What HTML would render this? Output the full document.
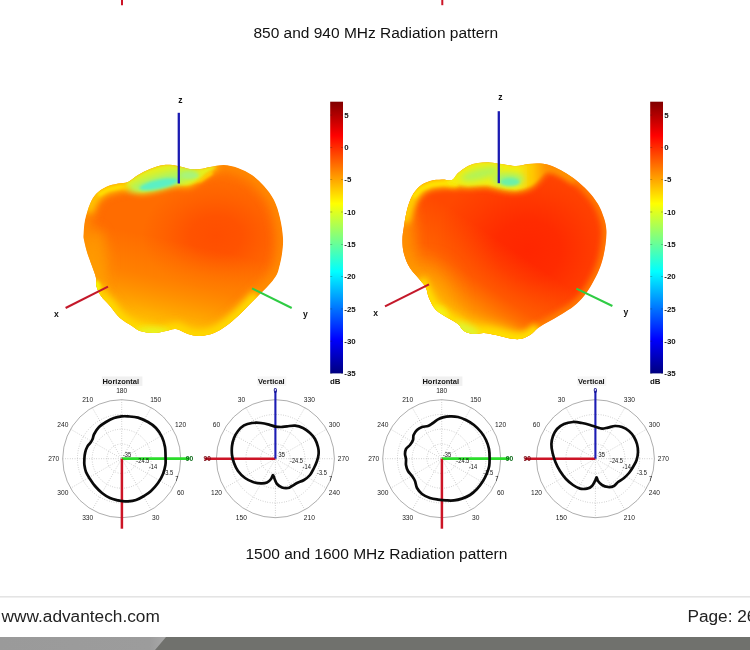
<!DOCTYPE html>
<html><head><meta charset="utf-8">
<style>
html,body{margin:0;padding:0;background:#fff;}
body{width:750px;height:650px;overflow:hidden;position:relative;font-family:"Liberation Sans",sans-serif;}
#wrap{position:absolute;left:0;top:0;width:750px;height:650px;will-change:transform;}
.cap{position:absolute;font-size:15.5px;color:#111;white-space:nowrap;line-height:18px;}
.ft{position:absolute;font-size:17.25px;color:#222;white-space:nowrap;line-height:19px;}
</style></head><body><div id="wrap">
<svg width="750" height="650" viewBox="0 0 750 650" style="position:absolute;left:0;top:0" font-family="Liberation Sans, sans-serif">
<defs>
<linearGradient id="jet" x1="0" y1="0" x2="0" y2="1">
<stop offset="0" stop-color="#800000"/>
<stop offset="0.125" stop-color="#ff0000"/>
<stop offset="0.375" stop-color="#ffff00"/>
<stop offset="0.5" stop-color="#80ff80"/>
<stop offset="0.625" stop-color="#00ffff"/>
<stop offset="0.875" stop-color="#0000ff"/>
<stop offset="1" stop-color="#000080"/>
</linearGradient>
<linearGradient id="wgR" gradientUnits="userSpaceOnUse" x1="518" y1="0" x2="552" y2="0"><stop offset="0" stop-color="#f4ee10"/><stop offset="0.45" stop-color="#ffc400"/><stop offset="1" stop-color="#ff7800"/></linearGradient>
<filter id="b2" filterUnits="userSpaceOnUse" x="0" y="0" width="750" height="650"><feGaussianBlur stdDeviation="1.6"/></filter>
<filter id="b3" filterUnits="userSpaceOnUse" x="0" y="0" width="750" height="650"><feGaussianBlur stdDeviation="3"/></filter>
<filter id="b6" filterUnits="userSpaceOnUse" x="0" y="0" width="750" height="650"><feGaussianBlur stdDeviation="6"/></filter>
<filter id="b14" filterUnits="userSpaceOnUse" x="0" y="0" width="750" height="650"><feGaussianBlur stdDeviation="14"/></filter>
</defs>
<line x1="122" y1="0" x2="122" y2="5.2" stroke="#cc1426" stroke-width="2"/>
<line x1="442.3" y1="0" x2="442.3" y2="5.2" stroke="#cc1426" stroke-width="2"/>
<clipPath id="clipL"><path d="M83.6,234.0C83.8,230.7 83.9,225.0 85.0,220.0C86.1,215.0 88.2,208.3 90.0,204.0C91.8,199.7 93.3,196.8 96.0,194.0C98.7,191.2 102.3,188.7 106.0,187.0C109.7,185.3 114.3,184.4 118.0,183.6C121.7,182.8 124.7,183.4 128.0,182.0C131.3,180.6 134.3,177.2 138.0,175.0C141.7,172.8 145.7,170.7 150.0,169.0C154.3,167.3 159.3,165.5 164.0,165.0C168.7,164.5 173.7,165.3 178.0,166.0C182.3,166.7 186.3,168.5 190.0,169.0C193.7,169.5 196.7,169.3 200.0,169.0C203.3,168.7 206.0,167.7 210.0,167.0C214.0,166.3 219.3,164.8 224.0,165.0C228.7,165.2 233.3,166.3 238.0,168.0C242.7,169.7 247.7,172.0 252.0,175.0C256.3,178.0 260.3,181.8 264.0,186.0C267.7,190.2 271.3,194.7 274.0,200.0C276.7,205.3 278.5,211.7 280.0,218.0C281.5,224.3 282.7,232.0 283.0,238.0C283.3,244.0 282.7,249.0 282.0,254.0C281.3,259.0 280.0,264.3 279.0,268.0C278.0,271.7 277.8,273.0 276.0,276.0C274.2,279.0 271.0,282.7 268.0,286.0C265.0,289.3 261.3,292.7 258.0,296.0C254.7,299.3 251.3,302.7 248.0,306.0C244.7,309.3 241.7,312.7 238.0,316.0C234.3,319.3 230.0,323.2 226.0,326.0C222.0,328.8 218.3,331.3 214.0,333.0C209.7,334.7 204.3,335.8 200.0,336.0C195.7,336.2 192.0,335.2 188.0,334.0C184.0,332.8 179.7,329.5 176.0,329.0C172.3,328.5 169.7,330.3 166.0,331.0C162.3,331.7 158.3,333.0 154.0,333.0C149.7,333.0 143.7,332.2 140.0,331.0C136.3,329.8 135.3,328.2 132.0,326.0C128.7,323.8 123.7,321.3 120.0,318.0C116.3,314.7 113.2,309.7 110.0,306.0C106.8,302.3 103.3,299.3 101.0,296.0C98.7,292.7 97.2,289.0 96.4,286.0C95.6,283.0 96.7,281.3 96.0,278.0C95.3,274.7 93.5,270.3 92.0,266.0C90.5,261.7 88.3,256.3 87.0,252.0C85.7,247.7 84.6,243.0 84.0,240.0C83.4,237.0 83.4,237.3 83.6,234.0Z"/></clipPath>
<linearGradient id="vgL" gradientUnits="userSpaceOnUse" x1="205" y1="248" x2="185" y2="338"><stop offset="0" stop-color="#ff9000" stop-opacity="0"/><stop offset="0.42" stop-color="#ff9000" stop-opacity="0.55"/><stop offset="0.75" stop-color="#ffa800" stop-opacity="0.95"/><stop offset="1" stop-color="#ffd000" stop-opacity="1"/></linearGradient>
<g clip-path="url(#clipL)">
<path d="M83.6,234.0C83.8,230.7 83.9,225.0 85.0,220.0C86.1,215.0 88.2,208.3 90.0,204.0C91.8,199.7 93.3,196.8 96.0,194.0C98.7,191.2 102.3,188.7 106.0,187.0C109.7,185.3 114.3,184.4 118.0,183.6C121.7,182.8 124.7,183.4 128.0,182.0C131.3,180.6 134.3,177.2 138.0,175.0C141.7,172.8 145.7,170.7 150.0,169.0C154.3,167.3 159.3,165.5 164.0,165.0C168.7,164.5 173.7,165.3 178.0,166.0C182.3,166.7 186.3,168.5 190.0,169.0C193.7,169.5 196.7,169.3 200.0,169.0C203.3,168.7 206.0,167.7 210.0,167.0C214.0,166.3 219.3,164.8 224.0,165.0C228.7,165.2 233.3,166.3 238.0,168.0C242.7,169.7 247.7,172.0 252.0,175.0C256.3,178.0 260.3,181.8 264.0,186.0C267.7,190.2 271.3,194.7 274.0,200.0C276.7,205.3 278.5,211.7 280.0,218.0C281.5,224.3 282.7,232.0 283.0,238.0C283.3,244.0 282.7,249.0 282.0,254.0C281.3,259.0 280.0,264.3 279.0,268.0C278.0,271.7 277.8,273.0 276.0,276.0C274.2,279.0 271.0,282.7 268.0,286.0C265.0,289.3 261.3,292.7 258.0,296.0C254.7,299.3 251.3,302.7 248.0,306.0C244.7,309.3 241.7,312.7 238.0,316.0C234.3,319.3 230.0,323.2 226.0,326.0C222.0,328.8 218.3,331.3 214.0,333.0C209.7,334.7 204.3,335.8 200.0,336.0C195.7,336.2 192.0,335.2 188.0,334.0C184.0,332.8 179.7,329.5 176.0,329.0C172.3,328.5 169.7,330.3 166.0,331.0C162.3,331.7 158.3,333.0 154.0,333.0C149.7,333.0 143.7,332.2 140.0,331.0C136.3,329.8 135.3,328.2 132.0,326.0C128.7,323.8 123.7,321.3 120.0,318.0C116.3,314.7 113.2,309.7 110.0,306.0C106.8,302.3 103.3,299.3 101.0,296.0C98.7,292.7 97.2,289.0 96.4,286.0C95.6,283.0 96.7,281.3 96.0,278.0C95.3,274.7 93.5,270.3 92.0,266.0C90.5,261.7 88.3,256.3 87.0,252.0C85.7,247.7 84.6,243.0 84.0,240.0C83.4,237.0 83.4,237.3 83.6,234.0Z" fill="#ff6c00"/>
<radialGradient id="rgL"><stop offset="0" stop-color="#ff4e00" stop-opacity="1"/><stop offset="0.35" stop-color="#ff4e00" stop-opacity="0.85"/><stop offset="0.7" stop-color="#ff4e00" stop-opacity="0.35"/><stop offset="1" stop-color="#ff4e00" stop-opacity="0"/></radialGradient>
<ellipse cx="216" cy="236" rx="74" ry="56" fill="url(#rgL)"/>
<rect x="0" y="90" width="750" height="270" fill="url(#vgL)"/>
<path d="M83.6,234.0C83.8,230.7 83.9,225.0 85.0,220.0C86.1,215.0 88.2,208.3 90.0,204.0C91.8,199.7 93.3,196.8 96.0,194.0C98.7,191.2 102.3,188.7 106.0,187.0C109.7,185.3 114.3,184.4 118.0,183.6C121.7,182.8 124.7,183.4 128.0,182.0C131.3,180.6 134.3,177.2 138.0,175.0C141.7,172.8 145.7,170.7 150.0,169.0C154.3,167.3 159.3,165.5 164.0,165.0C168.7,164.5 173.7,165.3 178.0,166.0C182.3,166.7 186.3,168.5 190.0,169.0C193.7,169.5 196.7,169.3 200.0,169.0C203.3,168.7 206.0,167.7 210.0,167.0C214.0,166.3 219.3,164.8 224.0,165.0C228.7,165.2 233.3,166.3 238.0,168.0C242.7,169.7 247.7,172.0 252.0,175.0C256.3,178.0 260.3,181.8 264.0,186.0C267.7,190.2 271.3,194.7 274.0,200.0C276.7,205.3 278.5,211.7 280.0,218.0C281.5,224.3 282.7,232.0 283.0,238.0C283.3,244.0 282.7,249.0 282.0,254.0C281.3,259.0 280.0,264.3 279.0,268.0C278.0,271.7 277.8,273.0 276.0,276.0C274.2,279.0 271.0,282.7 268.0,286.0C265.0,289.3 261.3,292.7 258.0,296.0C254.7,299.3 251.3,302.7 248.0,306.0C244.7,309.3 241.7,312.7 238.0,316.0C234.3,319.3 230.0,323.2 226.0,326.0C222.0,328.8 218.3,331.3 214.0,333.0C209.7,334.7 204.3,335.8 200.0,336.0C195.7,336.2 192.0,335.2 188.0,334.0C184.0,332.8 179.7,329.5 176.0,329.0C172.3,328.5 169.7,330.3 166.0,331.0C162.3,331.7 158.3,333.0 154.0,333.0C149.7,333.0 143.7,332.2 140.0,331.0C136.3,329.8 135.3,328.2 132.0,326.0C128.7,323.8 123.7,321.3 120.0,318.0C116.3,314.7 113.2,309.7 110.0,306.0C106.8,302.3 103.3,299.3 101.0,296.0C98.7,292.7 97.2,289.0 96.4,286.0C95.6,283.0 96.7,281.3 96.0,278.0C95.3,274.7 93.5,270.3 92.0,266.0C90.5,261.7 88.3,256.3 87.0,252.0C85.7,247.7 84.6,243.0 84.0,240.0C83.4,237.0 83.4,237.3 83.6,234.0Z" fill="none" stroke="#ff9c00" stroke-width="11" filter="url(#b6)" opacity="0.8"/>
<path d="M96.0,286.0C96.8,287.7 98.7,292.7 101.0,296.0C103.3,299.3 106.8,302.3 110.0,306.0C113.2,309.7 116.3,314.7 120.0,318.0C123.7,321.3 127.7,323.8 132.0,326.0C136.3,328.2 141.3,329.8 146.0,331.0C150.7,332.2 155.0,333.3 160.0,333.0C165.0,332.7 171.3,328.8 176.0,329.0C180.7,329.2 184.0,332.8 188.0,334.0C192.0,335.2 195.7,336.2 200.0,336.0C204.3,335.8 209.7,334.7 214.0,333.0C218.3,331.3 222.0,328.8 226.0,326.0C230.0,323.2 234.3,319.3 238.0,316.0C241.7,312.7 244.7,309.3 248.0,306.0C251.3,302.7 256.3,297.7 258.0,296.0" fill="none" stroke="#ffd800" stroke-width="14" filter="url(#b3)"/><ellipse cx="152" cy="333" rx="18" ry="6" fill="#e8f420" filter="url(#b3)"/><ellipse cx="96" cy="262" rx="12" ry="34" fill="#ffa000" filter="url(#b6)" opacity="0.7"/><ellipse cx="96.5" cy="289" rx="4.5" ry="9" fill="#f6f200" filter="url(#b2)"/><path d="M88,212 L92,202 L98,194 L108,188.5 L122,185.5 L140,184.5" fill="none" stroke="#ffc400" stroke-width="10" filter="url(#b3)"/><path d="M98,195 L108,189.5 L122,186.5 L140,185.5 L200,180 L212,172" fill="none" stroke="#ffe000" stroke-width="4" filter="url(#b2)"/><path d="M126.0,184.0C127.2,182.0 134.0,177.5 138.0,175.0C142.0,172.5 145.7,170.7 150.0,169.0C154.3,167.3 159.3,165.5 164.0,165.0C168.7,164.5 173.7,165.3 178.0,166.0C182.3,166.7 186.3,168.5 190.0,169.0C193.7,169.5 196.7,169.3 200.0,169.0C203.3,168.7 207.3,167.3 210.0,167.0C212.7,166.7 216.5,166.0 216.0,167.0C215.5,168.0 209.8,171.0 207.0,173.0C204.2,175.0 202.7,177.0 199.5,179.0C196.3,181.0 192.3,184.2 188.0,185.0C183.7,185.8 178.6,183.4 173.4,184.0C168.2,184.6 161.9,187.4 156.6,188.6C151.3,189.8 146.0,191.7 141.7,191.4C137.4,191.1 133.6,188.2 131.0,187.0C128.4,185.8 124.8,186.0 126.0,184.0Z" fill="#ffc000" stroke="#ffc000" stroke-width="5" filter="url(#b3)"/>
<path d="M126.0,184.0C127.2,182.0 134.0,177.5 138.0,175.0C142.0,172.5 145.7,170.7 150.0,169.0C154.3,167.3 159.3,165.5 164.0,165.0C168.7,164.5 173.7,165.3 178.0,166.0C182.3,166.7 186.3,168.5 190.0,169.0C193.7,169.5 196.7,169.3 200.0,169.0C203.3,168.7 207.3,167.3 210.0,167.0C212.7,166.7 216.5,166.0 216.0,167.0C215.5,168.0 209.8,171.0 207.0,173.0C204.2,175.0 202.7,177.0 199.5,179.0C196.3,181.0 192.3,184.2 188.0,185.0C183.7,185.8 178.6,183.4 173.4,184.0C168.2,184.6 161.9,187.4 156.6,188.6C151.3,189.8 146.0,191.7 141.7,191.4C137.4,191.1 133.6,188.2 131.0,187.0C128.4,185.8 124.8,186.0 126.0,184.0Z" fill="#e6f01e" filter="url(#b2)"/>
<ellipse cx="163" cy="180.5" rx="36" ry="7.5" transform="rotate(-14 163 180.5)" fill="#aef460" filter="url(#b3)"/><ellipse cx="159" cy="184.2" rx="20" ry="4.6" transform="rotate(-12 159 184.2)" fill="#5cf0c4" filter="url(#b2)"/><ellipse cx="190" cy="175.5" rx="9" ry="3.5" fill="#a8f47a" filter="url(#b2)"/>
</g>
<clipPath id="clipR"><path d="M402.4,240.0C402.4,235.3 403.2,231.0 404.0,226.0C404.8,221.0 405.7,215.0 407.0,210.0C408.3,205.0 409.8,200.0 412.0,196.0C414.2,192.0 417.0,188.5 420.0,186.0C423.0,183.5 426.3,182.1 430.0,181.0C433.7,179.9 438.3,179.8 442.0,179.6C445.7,179.4 449.3,181.1 452.0,180.0C454.7,178.9 455.3,175.3 458.0,173.0C460.7,170.7 464.7,167.7 468.0,166.0C471.3,164.3 474.3,163.6 478.0,163.0C481.7,162.4 486.0,162.2 490.0,162.4C494.0,162.6 497.7,163.4 502.0,164.0C506.3,164.6 511.7,166.0 516.0,166.0C520.3,166.0 524.0,164.4 528.0,164.0C532.0,163.6 536.0,163.3 540.0,163.6C544.0,163.9 548.0,164.6 552.0,166.0C556.0,167.4 560.0,169.7 564.0,172.0C568.0,174.3 572.0,176.8 576.0,180.0C580.0,183.2 584.3,187.0 588.0,191.0C591.7,195.0 595.3,199.5 598.0,204.0C600.7,208.5 602.6,213.7 604.0,218.0C605.4,222.3 606.1,225.7 606.4,230.0C606.7,234.3 606.2,239.3 605.6,244.0C605.0,248.7 604.1,253.7 603.0,258.0C601.9,262.3 600.8,265.7 599.0,270.0C597.2,274.3 594.5,279.7 592.0,284.0C589.5,288.3 587.0,292.3 584.0,296.0C581.0,299.7 577.7,303.0 574.0,306.0C570.3,309.0 566.3,311.3 562.0,314.0C557.7,316.7 552.0,319.7 548.0,322.0C544.0,324.3 541.0,325.8 538.0,328.0C535.0,330.2 533.0,333.2 530.0,335.0C527.0,336.8 523.7,338.5 520.0,339.0C516.3,339.5 512.0,338.7 508.0,338.0C504.0,337.3 500.0,335.8 496.0,335.0C492.0,334.2 487.7,333.2 484.0,333.0C480.3,332.8 477.3,334.3 474.0,334.0C470.7,333.7 466.7,332.7 464.0,331.0C461.3,329.3 460.7,326.2 458.0,324.0C455.3,321.8 451.7,320.3 448.0,318.0C444.3,315.7 439.2,313.3 436.0,310.0C432.8,306.7 430.7,301.7 429.0,298.0C427.3,294.3 427.5,291.0 426.0,288.0C424.5,285.0 422.7,283.3 420.0,280.0C417.3,276.7 412.7,272.3 410.0,268.0C407.3,263.7 405.3,258.7 404.0,254.0C402.7,249.3 402.4,244.7 402.4,240.0Z"/></clipPath>
<linearGradient id="vgR" gradientUnits="userSpaceOnUse" x1="540" y1="268" x2="490" y2="342"><stop offset="0" stop-color="#ff8000" stop-opacity="0"/><stop offset="0.5" stop-color="#ff7e00" stop-opacity="0.45"/><stop offset="0.82" stop-color="#ffa000" stop-opacity="0.85"/><stop offset="1" stop-color="#ffc800" stop-opacity="1"/></linearGradient>
<g clip-path="url(#clipR)">
<path d="M402.4,240.0C402.4,235.3 403.2,231.0 404.0,226.0C404.8,221.0 405.7,215.0 407.0,210.0C408.3,205.0 409.8,200.0 412.0,196.0C414.2,192.0 417.0,188.5 420.0,186.0C423.0,183.5 426.3,182.1 430.0,181.0C433.7,179.9 438.3,179.8 442.0,179.6C445.7,179.4 449.3,181.1 452.0,180.0C454.7,178.9 455.3,175.3 458.0,173.0C460.7,170.7 464.7,167.7 468.0,166.0C471.3,164.3 474.3,163.6 478.0,163.0C481.7,162.4 486.0,162.2 490.0,162.4C494.0,162.6 497.7,163.4 502.0,164.0C506.3,164.6 511.7,166.0 516.0,166.0C520.3,166.0 524.0,164.4 528.0,164.0C532.0,163.6 536.0,163.3 540.0,163.6C544.0,163.9 548.0,164.6 552.0,166.0C556.0,167.4 560.0,169.7 564.0,172.0C568.0,174.3 572.0,176.8 576.0,180.0C580.0,183.2 584.3,187.0 588.0,191.0C591.7,195.0 595.3,199.5 598.0,204.0C600.7,208.5 602.6,213.7 604.0,218.0C605.4,222.3 606.1,225.7 606.4,230.0C606.7,234.3 606.2,239.3 605.6,244.0C605.0,248.7 604.1,253.7 603.0,258.0C601.9,262.3 600.8,265.7 599.0,270.0C597.2,274.3 594.5,279.7 592.0,284.0C589.5,288.3 587.0,292.3 584.0,296.0C581.0,299.7 577.7,303.0 574.0,306.0C570.3,309.0 566.3,311.3 562.0,314.0C557.7,316.7 552.0,319.7 548.0,322.0C544.0,324.3 541.0,325.8 538.0,328.0C535.0,330.2 533.0,333.2 530.0,335.0C527.0,336.8 523.7,338.5 520.0,339.0C516.3,339.5 512.0,338.7 508.0,338.0C504.0,337.3 500.0,335.8 496.0,335.0C492.0,334.2 487.7,333.2 484.0,333.0C480.3,332.8 477.3,334.3 474.0,334.0C470.7,333.7 466.7,332.7 464.0,331.0C461.3,329.3 460.7,326.2 458.0,324.0C455.3,321.8 451.7,320.3 448.0,318.0C444.3,315.7 439.2,313.3 436.0,310.0C432.8,306.7 430.7,301.7 429.0,298.0C427.3,294.3 427.5,291.0 426.0,288.0C424.5,285.0 422.7,283.3 420.0,280.0C417.3,276.7 412.7,272.3 410.0,268.0C407.3,263.7 405.3,258.7 404.0,254.0C402.7,249.3 402.4,244.7 402.4,240.0Z" fill="#ff4800"/>
<radialGradient id="rgR"><stop offset="0" stop-color="#ff2600" stop-opacity="1"/><stop offset="0.35" stop-color="#ff2600" stop-opacity="0.85"/><stop offset="0.7" stop-color="#ff2600" stop-opacity="0.35"/><stop offset="1" stop-color="#ff2600" stop-opacity="0"/></radialGradient>
<ellipse cx="528" cy="250" rx="94" ry="84" fill="url(#rgR)"/>
<rect x="0" y="90" width="750" height="270" fill="url(#vgR)"/>
<path d="M402.4,240.0C402.4,235.3 403.2,231.0 404.0,226.0C404.8,221.0 405.7,215.0 407.0,210.0C408.3,205.0 409.8,200.0 412.0,196.0C414.2,192.0 417.0,188.5 420.0,186.0C423.0,183.5 426.3,182.1 430.0,181.0C433.7,179.9 438.3,179.8 442.0,179.6C445.7,179.4 449.3,181.1 452.0,180.0C454.7,178.9 455.3,175.3 458.0,173.0C460.7,170.7 464.7,167.7 468.0,166.0C471.3,164.3 474.3,163.6 478.0,163.0C481.7,162.4 486.0,162.2 490.0,162.4C494.0,162.6 497.7,163.4 502.0,164.0C506.3,164.6 511.7,166.0 516.0,166.0C520.3,166.0 524.0,164.4 528.0,164.0C532.0,163.6 536.0,163.3 540.0,163.6C544.0,163.9 548.0,164.6 552.0,166.0C556.0,167.4 560.0,169.7 564.0,172.0C568.0,174.3 572.0,176.8 576.0,180.0C580.0,183.2 584.3,187.0 588.0,191.0C591.7,195.0 595.3,199.5 598.0,204.0C600.7,208.5 602.6,213.7 604.0,218.0C605.4,222.3 606.1,225.7 606.4,230.0C606.7,234.3 606.2,239.3 605.6,244.0C605.0,248.7 604.1,253.7 603.0,258.0C601.9,262.3 600.8,265.7 599.0,270.0C597.2,274.3 594.5,279.7 592.0,284.0C589.5,288.3 587.0,292.3 584.0,296.0C581.0,299.7 577.7,303.0 574.0,306.0C570.3,309.0 566.3,311.3 562.0,314.0C557.7,316.7 552.0,319.7 548.0,322.0C544.0,324.3 541.0,325.8 538.0,328.0C535.0,330.2 533.0,333.2 530.0,335.0C527.0,336.8 523.7,338.5 520.0,339.0C516.3,339.5 512.0,338.7 508.0,338.0C504.0,337.3 500.0,335.8 496.0,335.0C492.0,334.2 487.7,333.2 484.0,333.0C480.3,332.8 477.3,334.3 474.0,334.0C470.7,333.7 466.7,332.7 464.0,331.0C461.3,329.3 460.7,326.2 458.0,324.0C455.3,321.8 451.7,320.3 448.0,318.0C444.3,315.7 439.2,313.3 436.0,310.0C432.8,306.7 430.7,301.7 429.0,298.0C427.3,294.3 427.5,291.0 426.0,288.0C424.5,285.0 422.7,283.3 420.0,280.0C417.3,276.7 412.7,272.3 410.0,268.0C407.3,263.7 405.3,258.7 404.0,254.0C402.7,249.3 402.4,244.7 402.4,240.0Z" fill="none" stroke="#ff8c00" stroke-width="8" filter="url(#b3)" opacity="0.85"/>
<ellipse cx="406" cy="238" rx="10" ry="44" fill="#ff9400" filter="url(#b6)" opacity="0.75"/><ellipse cx="468" cy="345" rx="60" ry="22" fill="#ffc800" filter="url(#b6)"/><ellipse cx="425" cy="300" rx="22" ry="30" fill="#ffb000" filter="url(#b14)" opacity="0.9"/><path d="M420.0,280.0C421.5,283.0 426.3,293.0 429.0,298.0C431.7,303.0 432.8,306.7 436.0,310.0C439.2,313.3 444.3,315.7 448.0,318.0C451.7,320.3 455.3,321.8 458.0,324.0C460.7,326.2 461.3,329.3 464.0,331.0C466.7,332.7 470.7,333.7 474.0,334.0C477.3,334.3 480.3,332.8 484.0,333.0C487.7,333.2 492.0,334.2 496.0,335.0C500.0,335.8 504.0,337.3 508.0,338.0C512.0,338.7 516.3,339.5 520.0,339.0C523.7,338.5 527.0,336.8 530.0,335.0C533.0,333.2 536.7,329.2 538.0,328.0" fill="none" stroke="#ffe000" stroke-width="12" filter="url(#b3)"/><ellipse cx="466" cy="330" rx="14" ry="6" transform="rotate(20 466 330)" fill="#e0f430" filter="url(#b3)"/><ellipse cx="440" cy="313" rx="9" ry="6" transform="rotate(40 440 313)" fill="#f4f418" filter="url(#b3)"/><path d="M404,222 L408,208 L413,197 L421,188 L432,183.5 L446,182 L458,183" fill="none" stroke="#ffd000" stroke-width="11" filter="url(#b3)"/><path d="M413,197 L421,189 L432,184.5 L446,183 L458,184" fill="none" stroke="#ffe400" stroke-width="4" filter="url(#b2)"/><path d="M449.0,181.0C449.5,179.3 454.8,175.5 458.0,173.0C461.2,170.5 464.7,167.7 468.0,166.0C471.3,164.3 474.3,163.6 478.0,163.0C481.7,162.4 486.0,162.2 490.0,162.4C494.0,162.6 497.7,163.4 502.0,164.0C506.3,164.6 511.7,166.0 516.0,166.0C520.3,166.0 524.0,164.4 528.0,164.0C532.0,163.6 536.7,163.3 540.0,163.6C543.3,163.9 547.0,164.9 548.0,166.0C549.0,167.1 547.0,168.2 545.7,170.0C544.4,171.8 542.5,174.4 540.0,177.0C537.5,179.6 534.4,183.5 530.7,185.5C527.0,187.5 522.1,188.7 517.7,189.2C513.4,189.7 509.9,189.1 504.6,188.3C499.3,187.5 492.2,185.1 486.0,184.6C479.8,184.1 472.5,185.8 467.3,185.5C462.1,185.2 458.1,183.8 455.0,183.0C451.9,182.2 448.5,182.7 449.0,181.0Z" fill="url(#wgR)" stroke="url(#wgR)" stroke-width="5" filter="url(#b3)" opacity="0.9"/><path d="M540,166 L560,172 L575,181" fill="none" stroke="#ffa000" stroke-width="6" filter="url(#b3)"/>
<path d="M449.0,181.0C449.5,179.3 454.8,175.5 458.0,173.0C461.2,170.5 464.7,167.7 468.0,166.0C471.3,164.3 474.3,163.6 478.0,163.0C481.7,162.4 486.0,162.2 490.0,162.4C494.0,162.6 497.7,163.4 502.0,164.0C506.3,164.6 511.7,166.0 516.0,166.0C520.3,166.0 524.0,164.4 528.0,164.0C532.0,163.6 536.7,163.3 540.0,163.6C543.3,163.9 547.0,164.9 548.0,166.0C549.0,167.1 547.0,168.2 545.7,170.0C544.4,171.8 542.5,174.4 540.0,177.0C537.5,179.6 534.4,183.5 530.7,185.5C527.0,187.5 522.1,188.7 517.7,189.2C513.4,189.7 509.9,189.1 504.6,188.3C499.3,187.5 492.2,185.1 486.0,184.6C479.8,184.1 472.5,185.8 467.3,185.5C462.1,185.2 458.1,183.8 455.0,183.0C451.9,182.2 448.5,182.7 449.0,181.0Z" fill="url(#wgR)" filter="url(#b2)"/>
<ellipse cx="480" cy="174" rx="20" ry="5.5" transform="rotate(-14 480 174)" fill="#b0f458" filter="url(#b3)"/><ellipse cx="508" cy="179" rx="16" ry="6" fill="#a0f470" filter="url(#b3)"/><ellipse cx="510" cy="182" rx="10" ry="4" fill="#6cf0a8" filter="url(#b2)"/>
</g>
<line x1="178.8" y1="112.8" x2="178.8" y2="183.5" stroke="#1a1ab2" stroke-width="2.3"/>
<line x1="498.8" y1="111.2" x2="498.8" y2="183.2" stroke="#1a1ab2" stroke-width="2.3"/>
<line x1="65.6" y1="308" x2="108" y2="286.6" stroke="#c4182a" stroke-width="2.1"/>
<line x1="385" y1="306.4" x2="429" y2="284.4" stroke="#c4182a" stroke-width="2.1"/>
<line x1="252" y1="288.4" x2="291.7" y2="308" stroke="#2fcc44" stroke-width="2.1"/>
<line x1="576.4" y1="288.6" x2="612.4" y2="306" stroke="#2fcc44" stroke-width="2.1"/>
<text x="180.5" y="103.0" text-anchor="middle" font-size="8.6" font-weight="bold" fill="#111">z</text>
<text x="500.5" y="100.2" text-anchor="middle" font-size="8.6" font-weight="bold" fill="#111">z</text>
<text x="56.4" y="317.4" text-anchor="middle" font-size="8.6" font-weight="bold" fill="#111">x</text>
<text x="375.6" y="316.2" text-anchor="middle" font-size="8.6" font-weight="bold" fill="#111">x</text>
<text x="305.3" y="316.6" text-anchor="middle" font-size="8.6" font-weight="bold" fill="#111">y</text>
<text x="626" y="315.4" text-anchor="middle" font-size="8.6" font-weight="bold" fill="#111">y</text>
<rect x="330.2" y="101.7" width="12.8" height="271.7" fill="url(#jet)"/>
<line x1="330.2" y1="115.1" x2="332.2" y2="115.1" stroke="#222" stroke-width="0.6" opacity="0.5"/>
<line x1="341.0" y1="115.1" x2="343.0" y2="115.1" stroke="#222" stroke-width="0.6" opacity="0.5"/>
<text x="344.3" y="117.8" font-size="7.9" font-weight="bold" fill="#111">5</text>
<line x1="330.2" y1="147.4" x2="332.2" y2="147.4" stroke="#222" stroke-width="0.6" opacity="0.5"/>
<line x1="341.0" y1="147.4" x2="343.0" y2="147.4" stroke="#222" stroke-width="0.6" opacity="0.5"/>
<text x="344.3" y="150.1" font-size="7.9" font-weight="bold" fill="#111">0</text>
<line x1="330.2" y1="179.7" x2="332.2" y2="179.7" stroke="#222" stroke-width="0.6" opacity="0.5"/>
<line x1="341.0" y1="179.7" x2="343.0" y2="179.7" stroke="#222" stroke-width="0.6" opacity="0.5"/>
<text x="344.3" y="182.4" font-size="7.9" font-weight="bold" fill="#111">-5</text>
<line x1="330.2" y1="212.0" x2="332.2" y2="212.0" stroke="#222" stroke-width="0.6" opacity="0.5"/>
<line x1="341.0" y1="212.0" x2="343.0" y2="212.0" stroke="#222" stroke-width="0.6" opacity="0.5"/>
<text x="344.3" y="214.7" font-size="7.9" font-weight="bold" fill="#111">-10</text>
<line x1="330.2" y1="244.3" x2="332.2" y2="244.3" stroke="#222" stroke-width="0.6" opacity="0.5"/>
<line x1="341.0" y1="244.3" x2="343.0" y2="244.3" stroke="#222" stroke-width="0.6" opacity="0.5"/>
<text x="344.3" y="247.0" font-size="7.9" font-weight="bold" fill="#111">-15</text>
<line x1="330.2" y1="276.6" x2="332.2" y2="276.6" stroke="#222" stroke-width="0.6" opacity="0.5"/>
<line x1="341.0" y1="276.6" x2="343.0" y2="276.6" stroke="#222" stroke-width="0.6" opacity="0.5"/>
<text x="344.3" y="279.3" font-size="7.9" font-weight="bold" fill="#111">-20</text>
<line x1="330.2" y1="308.9" x2="332.2" y2="308.9" stroke="#222" stroke-width="0.6" opacity="0.5"/>
<line x1="341.0" y1="308.9" x2="343.0" y2="308.9" stroke="#222" stroke-width="0.6" opacity="0.5"/>
<text x="344.3" y="311.6" font-size="7.9" font-weight="bold" fill="#111">-25</text>
<line x1="330.2" y1="341.2" x2="332.2" y2="341.2" stroke="#222" stroke-width="0.6" opacity="0.5"/>
<line x1="341.0" y1="341.2" x2="343.0" y2="341.2" stroke="#222" stroke-width="0.6" opacity="0.5"/>
<text x="344.3" y="343.9" font-size="7.9" font-weight="bold" fill="#111">-30</text>
<line x1="330.2" y1="373.5" x2="332.2" y2="373.5" stroke="#222" stroke-width="0.6" opacity="0.5"/>
<line x1="341.0" y1="373.5" x2="343.0" y2="373.5" stroke="#222" stroke-width="0.6" opacity="0.5"/>
<text x="344.3" y="376.2" font-size="7.9" font-weight="bold" fill="#111">-35</text>
<text x="335.3" y="383.6" text-anchor="middle" font-size="7.9" font-weight="bold" fill="#111">dB</text>
<rect x="650.2" y="101.7" width="12.8" height="271.7" fill="url(#jet)"/>
<line x1="650.2" y1="115.1" x2="652.2" y2="115.1" stroke="#222" stroke-width="0.6" opacity="0.5"/>
<line x1="661.0" y1="115.1" x2="663.0" y2="115.1" stroke="#222" stroke-width="0.6" opacity="0.5"/>
<text x="664.3" y="117.8" font-size="7.9" font-weight="bold" fill="#111">5</text>
<line x1="650.2" y1="147.4" x2="652.2" y2="147.4" stroke="#222" stroke-width="0.6" opacity="0.5"/>
<line x1="661.0" y1="147.4" x2="663.0" y2="147.4" stroke="#222" stroke-width="0.6" opacity="0.5"/>
<text x="664.3" y="150.1" font-size="7.9" font-weight="bold" fill="#111">0</text>
<line x1="650.2" y1="179.7" x2="652.2" y2="179.7" stroke="#222" stroke-width="0.6" opacity="0.5"/>
<line x1="661.0" y1="179.7" x2="663.0" y2="179.7" stroke="#222" stroke-width="0.6" opacity="0.5"/>
<text x="664.3" y="182.4" font-size="7.9" font-weight="bold" fill="#111">-5</text>
<line x1="650.2" y1="212.0" x2="652.2" y2="212.0" stroke="#222" stroke-width="0.6" opacity="0.5"/>
<line x1="661.0" y1="212.0" x2="663.0" y2="212.0" stroke="#222" stroke-width="0.6" opacity="0.5"/>
<text x="664.3" y="214.7" font-size="7.9" font-weight="bold" fill="#111">-10</text>
<line x1="650.2" y1="244.3" x2="652.2" y2="244.3" stroke="#222" stroke-width="0.6" opacity="0.5"/>
<line x1="661.0" y1="244.3" x2="663.0" y2="244.3" stroke="#222" stroke-width="0.6" opacity="0.5"/>
<text x="664.3" y="247.0" font-size="7.9" font-weight="bold" fill="#111">-15</text>
<line x1="650.2" y1="276.6" x2="652.2" y2="276.6" stroke="#222" stroke-width="0.6" opacity="0.5"/>
<line x1="661.0" y1="276.6" x2="663.0" y2="276.6" stroke="#222" stroke-width="0.6" opacity="0.5"/>
<text x="664.3" y="279.3" font-size="7.9" font-weight="bold" fill="#111">-20</text>
<line x1="650.2" y1="308.9" x2="652.2" y2="308.9" stroke="#222" stroke-width="0.6" opacity="0.5"/>
<line x1="661.0" y1="308.9" x2="663.0" y2="308.9" stroke="#222" stroke-width="0.6" opacity="0.5"/>
<text x="664.3" y="311.6" font-size="7.9" font-weight="bold" fill="#111">-25</text>
<line x1="650.2" y1="341.2" x2="652.2" y2="341.2" stroke="#222" stroke-width="0.6" opacity="0.5"/>
<line x1="661.0" y1="341.2" x2="663.0" y2="341.2" stroke="#222" stroke-width="0.6" opacity="0.5"/>
<text x="664.3" y="343.9" font-size="7.9" font-weight="bold" fill="#111">-30</text>
<line x1="650.2" y1="373.5" x2="652.2" y2="373.5" stroke="#222" stroke-width="0.6" opacity="0.5"/>
<line x1="661.0" y1="373.5" x2="663.0" y2="373.5" stroke="#222" stroke-width="0.6" opacity="0.5"/>
<text x="664.3" y="376.2" font-size="7.9" font-weight="bold" fill="#111">-35</text>
<text x="655.3" y="383.6" text-anchor="middle" font-size="7.9" font-weight="bold" fill="#111">dB</text>
<g>
<rect x="101.8" y="376.5" width="40.6" height="9.4" fill="#f0f0f0"/>
<text x="120.8" y="384.0" text-anchor="middle" font-size="7.5" font-weight="bold" fill="#151515">Horizontal</text>
<circle cx="121.7" cy="458.7" r="59.0" fill="none" stroke="#6a6a6a" stroke-width="0.55"/>
<circle cx="121.7" cy="458.7" r="14.75" fill="none" stroke="#8a8a8a" stroke-width="0.55" stroke-dasharray="0.7 1.7"/>
<circle cx="121.7" cy="458.7" r="29.50" fill="none" stroke="#8a8a8a" stroke-width="0.55" stroke-dasharray="0.7 1.7"/>
<circle cx="121.7" cy="458.7" r="44.25" fill="none" stroke="#8a8a8a" stroke-width="0.55" stroke-dasharray="0.7 1.7"/>
<line x1="62.7" y1="458.7" x2="180.7" y2="458.7" stroke="#8a8a8a" stroke-width="0.55" stroke-dasharray="0.7 1.7"/>
<line x1="70.6" y1="429.2" x2="172.8" y2="488.2" stroke="#8a8a8a" stroke-width="0.55" stroke-dasharray="0.7 1.7"/>
<line x1="92.2" y1="407.6" x2="151.2" y2="509.8" stroke="#8a8a8a" stroke-width="0.55" stroke-dasharray="0.7 1.7"/>
<line x1="121.7" y1="399.7" x2="121.7" y2="517.7" stroke="#8a8a8a" stroke-width="0.55" stroke-dasharray="0.7 1.7"/>
<line x1="151.2" y1="407.6" x2="92.2" y2="509.8" stroke="#8a8a8a" stroke-width="0.55" stroke-dasharray="0.7 1.7"/>
<line x1="172.8" y1="429.2" x2="70.6" y2="488.2" stroke="#8a8a8a" stroke-width="0.55" stroke-dasharray="0.7 1.7"/>
<text transform="translate(121.7,393.3) scale(0.9,1)" text-anchor="middle" font-size="7.4" fill="#222">180</text>
<text transform="translate(155.7,402.4) scale(0.9,1)" text-anchor="middle" font-size="7.4" fill="#222">150</text>
<text transform="translate(180.6,427.3) scale(0.9,1)" text-anchor="middle" font-size="7.4" fill="#222">120</text>
<text transform="translate(180.6,495.3) scale(0.9,1)" text-anchor="middle" font-size="7.4" fill="#222">60</text>
<text transform="translate(155.7,520.2) scale(0.9,1)" text-anchor="middle" font-size="7.4" fill="#222">30</text>
<text transform="translate(87.7,520.2) scale(0.9,1)" text-anchor="middle" font-size="7.4" fill="#222">330</text>
<text transform="translate(62.8,495.3) scale(0.9,1)" text-anchor="middle" font-size="7.4" fill="#222">300</text>
<text transform="translate(53.7,461.3) scale(0.9,1)" text-anchor="middle" font-size="7.4" fill="#222">270</text>
<text transform="translate(62.8,427.3) scale(0.9,1)" text-anchor="middle" font-size="7.4" fill="#222">240</text>
<text transform="translate(87.7,402.4) scale(0.9,1)" text-anchor="middle" font-size="7.4" fill="#222">210</text>
<line x1="121.7" y1="458.7" x2="189.7" y2="458.7" stroke="#2bdc2b" stroke-width="2.7"/>
<text transform="translate(189.5,461.3) scale(0.9,1)" text-anchor="middle" font-size="7.4" font-weight="bold" fill="#0b6a18">90</text>
<line x1="121.9" y1="458.7" x2="121.9" y2="528.7" stroke="#cc1426" stroke-width="2.5"/>
<text transform="translate(127.0,456.8) scale(0.9,1)" text-anchor="middle" font-size="6.3" fill="#111">-35</text>
<text transform="translate(142.8,463.2) scale(0.9,1)" text-anchor="middle" font-size="6.3" fill="#111">-24.5</text>
<text transform="translate(153.0,469.0) scale(0.9,1)" text-anchor="middle" font-size="6.3" fill="#111">-14</text>
<text transform="translate(168.2,475.3) scale(0.9,1)" text-anchor="middle" font-size="6.3" fill="#111">-3.5</text>
<text transform="translate(176.9,481.4) scale(0.9,1)" text-anchor="middle" font-size="6.3" fill="#111">7</text>
<path d="M165.6,458.6C165.5,455.6 165.6,450.6 165.0,447.0C164.4,443.4 163.5,440.2 162.0,437.0C160.5,433.8 158.3,430.5 156.0,428.0C153.7,425.5 151.0,423.7 148.0,422.0C145.0,420.3 141.3,418.5 138.0,417.6C134.7,416.7 130.7,416.6 128.0,416.4C125.3,416.2 123.9,416.1 121.6,416.4C119.3,416.7 116.6,417.1 114.0,418.0C111.4,418.9 108.5,420.5 106.0,422.0C103.5,423.5 101.0,425.0 99.0,427.0C97.0,429.0 95.3,432.0 94.2,434.0C93.1,436.0 93.2,437.6 92.6,439.0C92.0,440.4 91.4,441.4 90.6,442.6C89.8,443.8 88.5,444.6 87.6,446.2C86.7,447.8 85.7,450.3 85.2,452.4C84.7,454.5 84.5,456.5 84.4,458.6C84.3,460.7 84.1,462.8 84.4,465.0C84.7,467.2 85.1,469.7 86.0,472.0C86.9,474.3 88.5,476.7 90.0,479.0C91.5,481.3 93.0,483.7 95.0,486.0C97.0,488.3 99.5,491.0 102.0,493.0C104.5,495.0 107.3,496.8 110.0,498.0C112.7,499.2 116.1,499.9 118.0,500.4C119.9,500.9 119.9,500.8 121.6,501.0C123.3,501.2 125.6,501.6 128.0,501.4C130.4,501.2 133.3,500.9 136.0,500.0C138.7,499.1 141.5,497.5 144.0,496.0C146.5,494.5 148.7,493.2 151.0,491.0C153.3,488.8 156.0,485.8 158.0,483.0C160.0,480.2 161.8,477.0 163.0,474.0C164.2,471.0 165.0,467.6 165.4,465.0C165.8,462.4 165.7,461.6 165.6,458.6Z" fill="none" stroke="#0a0a0a" stroke-width="2.7" stroke-linejoin="round"/>
</g>
<g>
<rect x="257.3" y="376.5" width="29" height="9.4" fill="#f6f6f6"/>
<text x="271.3" y="384.0" text-anchor="middle" font-size="7.5" font-weight="bold" fill="#151515">Vertical</text>
<circle cx="275.4" cy="458.7" r="59.0" fill="none" stroke="#6a6a6a" stroke-width="0.55"/>
<circle cx="275.4" cy="458.7" r="14.75" fill="none" stroke="#8a8a8a" stroke-width="0.55" stroke-dasharray="0.7 1.7"/>
<circle cx="275.4" cy="458.7" r="29.50" fill="none" stroke="#8a8a8a" stroke-width="0.55" stroke-dasharray="0.7 1.7"/>
<circle cx="275.4" cy="458.7" r="44.25" fill="none" stroke="#8a8a8a" stroke-width="0.55" stroke-dasharray="0.7 1.7"/>
<line x1="216.4" y1="458.7" x2="334.4" y2="458.7" stroke="#8a8a8a" stroke-width="0.55" stroke-dasharray="0.7 1.7"/>
<line x1="224.3" y1="429.2" x2="326.5" y2="488.2" stroke="#8a8a8a" stroke-width="0.55" stroke-dasharray="0.7 1.7"/>
<line x1="245.9" y1="407.6" x2="304.9" y2="509.8" stroke="#8a8a8a" stroke-width="0.55" stroke-dasharray="0.7 1.7"/>
<line x1="275.4" y1="399.7" x2="275.4" y2="517.7" stroke="#8a8a8a" stroke-width="0.55" stroke-dasharray="0.7 1.7"/>
<line x1="304.9" y1="407.6" x2="245.9" y2="509.8" stroke="#8a8a8a" stroke-width="0.55" stroke-dasharray="0.7 1.7"/>
<line x1="326.5" y1="429.2" x2="224.3" y2="488.2" stroke="#8a8a8a" stroke-width="0.55" stroke-dasharray="0.7 1.7"/>
<text transform="translate(309.4,402.4) scale(0.9,1)" text-anchor="middle" font-size="7.4" fill="#222">330</text>
<text transform="translate(334.3,427.3) scale(0.9,1)" text-anchor="middle" font-size="7.4" fill="#222">300</text>
<text transform="translate(343.4,461.3) scale(0.9,1)" text-anchor="middle" font-size="7.4" fill="#222">270</text>
<text transform="translate(334.3,495.3) scale(0.9,1)" text-anchor="middle" font-size="7.4" fill="#222">240</text>
<text transform="translate(309.4,520.2) scale(0.9,1)" text-anchor="middle" font-size="7.4" fill="#222">210</text>
<text transform="translate(241.4,520.2) scale(0.9,1)" text-anchor="middle" font-size="7.4" fill="#222">150</text>
<text transform="translate(216.5,495.3) scale(0.9,1)" text-anchor="middle" font-size="7.4" fill="#222">120</text>
<text transform="translate(216.5,427.3) scale(0.9,1)" text-anchor="middle" font-size="7.4" fill="#222">60</text>
<text transform="translate(241.4,402.4) scale(0.9,1)" text-anchor="middle" font-size="7.4" fill="#222">30</text>
<line x1="275.4" y1="458.7" x2="204.89999999999998" y2="458.7" stroke="#cc1426" stroke-width="2.4"/>
<text transform="translate(207.2,461.3) scale(0.9,1)" text-anchor="middle" font-size="7.4" font-weight="bold" fill="#7a0a14">90</text>
<line x1="275.4" y1="458.7" x2="275.4" y2="390.7" stroke="#1c1cb4" stroke-width="2.1"/>
<text transform="translate(275.4,393.4) scale(0.9,1)" text-anchor="middle" font-size="7.4" font-weight="bold" fill="#14148c">0</text>
<text transform="translate(281.7,456.8) scale(0.9,1)" text-anchor="middle" font-size="6.3" fill="#111">35</text>
<text transform="translate(296.5,463.2) scale(0.9,1)" text-anchor="middle" font-size="6.3" fill="#111">-24.5</text>
<text transform="translate(306.7,469.0) scale(0.9,1)" text-anchor="middle" font-size="6.3" fill="#111">-14</text>
<text transform="translate(321.9,475.3) scale(0.9,1)" text-anchor="middle" font-size="6.3" fill="#111">-3.5</text>
<text transform="translate(330.6,481.4) scale(0.9,1)" text-anchor="middle" font-size="6.3" fill="#111">7</text>
<path d="M275.4,426.6C277.4,427.0 279.1,427.0 281.0,427.0C282.9,427.0 284.7,426.6 287.0,426.4C289.3,426.2 292.3,425.3 295.0,425.6C297.7,425.9 300.5,426.8 303.0,428.0C305.5,429.2 308.0,431.2 310.0,433.0C312.0,434.8 313.7,436.7 315.0,439.0C316.3,441.3 317.4,444.5 318.0,447.0C318.6,449.5 318.8,451.7 318.6,454.0C318.4,456.3 317.8,458.7 317.0,461.0C316.2,463.3 315.2,465.7 314.0,468.0C312.8,470.3 311.7,473.0 310.0,475.0C308.3,477.0 306.2,478.7 304.0,480.0C301.8,481.3 299.0,482.0 297.0,483.0C295.0,484.0 293.5,485.2 292.0,486.0C290.5,486.8 289.7,487.8 288.0,488.0C286.3,488.2 283.8,488.1 282.0,487.4C280.2,486.7 278.2,485.4 277.0,484.0C275.8,482.6 275.3,480.5 274.6,479.0C273.9,477.5 273.6,475.0 273.0,475.0C272.4,475.0 272.0,477.7 271.0,479.0C270.0,480.3 268.7,481.9 267.0,482.6C265.3,483.3 263.3,483.5 261.0,483.4C258.7,483.3 255.7,482.9 253.0,482.0C250.3,481.1 247.5,479.8 245.0,478.0C242.5,476.2 239.8,473.5 238.0,471.0C236.2,468.5 235.0,465.7 234.0,463.0C233.0,460.3 232.3,457.8 232.0,455.0C231.7,452.2 231.7,448.8 232.0,446.0C232.3,443.2 233.0,440.5 234.0,438.0C235.0,435.5 236.3,433.1 238.0,431.0C239.7,428.9 241.7,426.7 244.0,425.4C246.3,424.1 249.2,423.4 252.0,423.0C254.8,422.6 258.2,422.7 261.0,423.0C263.8,423.3 266.6,424.0 269.0,424.6C271.4,425.2 273.4,426.2 275.4,426.6Z" fill="none" stroke="#0a0a0a" stroke-width="2.7" stroke-linejoin="round"/>
</g>
<g>
<rect x="421.8" y="376.5" width="40.6" height="9.4" fill="#f0f0f0"/>
<text x="440.8" y="384.0" text-anchor="middle" font-size="7.5" font-weight="bold" fill="#151515">Horizontal</text>
<circle cx="441.7" cy="458.7" r="59.0" fill="none" stroke="#6a6a6a" stroke-width="0.55"/>
<circle cx="441.7" cy="458.7" r="14.75" fill="none" stroke="#8a8a8a" stroke-width="0.55" stroke-dasharray="0.7 1.7"/>
<circle cx="441.7" cy="458.7" r="29.50" fill="none" stroke="#8a8a8a" stroke-width="0.55" stroke-dasharray="0.7 1.7"/>
<circle cx="441.7" cy="458.7" r="44.25" fill="none" stroke="#8a8a8a" stroke-width="0.55" stroke-dasharray="0.7 1.7"/>
<line x1="382.7" y1="458.7" x2="500.7" y2="458.7" stroke="#8a8a8a" stroke-width="0.55" stroke-dasharray="0.7 1.7"/>
<line x1="390.6" y1="429.2" x2="492.8" y2="488.2" stroke="#8a8a8a" stroke-width="0.55" stroke-dasharray="0.7 1.7"/>
<line x1="412.2" y1="407.6" x2="471.2" y2="509.8" stroke="#8a8a8a" stroke-width="0.55" stroke-dasharray="0.7 1.7"/>
<line x1="441.7" y1="399.7" x2="441.7" y2="517.7" stroke="#8a8a8a" stroke-width="0.55" stroke-dasharray="0.7 1.7"/>
<line x1="471.2" y1="407.6" x2="412.2" y2="509.8" stroke="#8a8a8a" stroke-width="0.55" stroke-dasharray="0.7 1.7"/>
<line x1="492.8" y1="429.2" x2="390.6" y2="488.2" stroke="#8a8a8a" stroke-width="0.55" stroke-dasharray="0.7 1.7"/>
<text transform="translate(441.7,393.3) scale(0.9,1)" text-anchor="middle" font-size="7.4" fill="#222">180</text>
<text transform="translate(475.7,402.4) scale(0.9,1)" text-anchor="middle" font-size="7.4" fill="#222">150</text>
<text transform="translate(500.6,427.3) scale(0.9,1)" text-anchor="middle" font-size="7.4" fill="#222">120</text>
<text transform="translate(500.6,495.3) scale(0.9,1)" text-anchor="middle" font-size="7.4" fill="#222">60</text>
<text transform="translate(475.7,520.2) scale(0.9,1)" text-anchor="middle" font-size="7.4" fill="#222">30</text>
<text transform="translate(407.7,520.2) scale(0.9,1)" text-anchor="middle" font-size="7.4" fill="#222">330</text>
<text transform="translate(382.8,495.3) scale(0.9,1)" text-anchor="middle" font-size="7.4" fill="#222">300</text>
<text transform="translate(373.7,461.3) scale(0.9,1)" text-anchor="middle" font-size="7.4" fill="#222">270</text>
<text transform="translate(382.8,427.3) scale(0.9,1)" text-anchor="middle" font-size="7.4" fill="#222">240</text>
<text transform="translate(407.7,402.4) scale(0.9,1)" text-anchor="middle" font-size="7.4" fill="#222">210</text>
<line x1="441.7" y1="458.7" x2="509.7" y2="458.7" stroke="#2bdc2b" stroke-width="2.7"/>
<text transform="translate(509.5,461.3) scale(0.9,1)" text-anchor="middle" font-size="7.4" font-weight="bold" fill="#0b6a18">90</text>
<line x1="441.9" y1="458.7" x2="441.9" y2="528.7" stroke="#cc1426" stroke-width="2.5"/>
<text transform="translate(447.0,456.8) scale(0.9,1)" text-anchor="middle" font-size="6.3" fill="#111">-35</text>
<text transform="translate(462.8,463.2) scale(0.9,1)" text-anchor="middle" font-size="6.3" fill="#111">-24.5</text>
<text transform="translate(473.0,469.0) scale(0.9,1)" text-anchor="middle" font-size="6.3" fill="#111">-14</text>
<text transform="translate(488.2,475.3) scale(0.9,1)" text-anchor="middle" font-size="6.3" fill="#111">-3.5</text>
<text transform="translate(496.9,481.4) scale(0.9,1)" text-anchor="middle" font-size="6.3" fill="#111">7</text>
<path d="M489.6,458.6C489.6,455.8 489.6,452.1 489.0,449.0C488.4,445.9 487.3,442.8 486.0,440.0C484.7,437.2 483.0,434.5 481.0,432.0C479.0,429.5 476.5,427.0 474.0,425.0C471.5,423.0 468.7,421.3 466.0,420.0C463.3,418.7 460.7,417.6 458.0,417.0C455.3,416.4 452.5,416.3 450.0,416.4C447.5,416.5 445.0,416.9 443.0,417.4C441.0,417.9 439.7,418.5 438.0,419.4C436.3,420.3 434.7,421.9 433.0,423.0C431.3,424.1 429.8,425.3 428.0,426.0C426.2,426.7 423.8,426.3 422.0,427.0C420.2,427.7 418.4,428.7 417.0,430.0C415.6,431.3 414.3,433.3 413.6,435.0C412.9,436.7 413.6,438.3 413.0,440.0C412.4,441.7 411.2,443.5 410.0,445.0C408.8,446.5 406.8,447.5 406.0,449.0C405.2,450.5 405.0,452.3 405.0,454.0C405.0,455.7 405.8,457.2 406.0,459.0C406.2,460.8 405.7,463.0 406.0,465.0C406.3,467.0 407.0,469.2 408.0,471.0C409.0,472.8 410.8,474.3 412.0,476.0C413.2,477.7 414.2,479.0 415.0,481.0C415.8,483.0 415.8,485.8 417.0,488.0C418.2,490.2 419.8,492.3 422.0,494.0C424.2,495.7 427.3,497.1 430.0,498.0C432.7,498.9 435.3,499.2 438.0,499.6C440.7,500.0 443.3,500.3 446.0,500.4C448.7,500.5 451.3,500.7 454.0,500.4C456.7,500.1 459.3,499.5 462.0,498.6C464.7,497.7 467.5,496.6 470.0,495.0C472.5,493.4 474.8,491.3 477.0,489.0C479.2,486.7 481.3,483.7 483.0,481.0C484.7,478.3 486.0,475.5 487.0,473.0C488.0,470.5 488.8,468.4 489.2,466.0C489.6,463.6 489.6,461.4 489.6,458.6Z" fill="none" stroke="#0a0a0a" stroke-width="2.7" stroke-linejoin="round"/>
</g>
<g>
<rect x="577.3" y="376.5" width="29" height="9.4" fill="#f6f6f6"/>
<text x="591.3" y="384.0" text-anchor="middle" font-size="7.5" font-weight="bold" fill="#151515">Vertical</text>
<circle cx="595.4" cy="458.7" r="59.0" fill="none" stroke="#6a6a6a" stroke-width="0.55"/>
<circle cx="595.4" cy="458.7" r="14.75" fill="none" stroke="#8a8a8a" stroke-width="0.55" stroke-dasharray="0.7 1.7"/>
<circle cx="595.4" cy="458.7" r="29.50" fill="none" stroke="#8a8a8a" stroke-width="0.55" stroke-dasharray="0.7 1.7"/>
<circle cx="595.4" cy="458.7" r="44.25" fill="none" stroke="#8a8a8a" stroke-width="0.55" stroke-dasharray="0.7 1.7"/>
<line x1="536.4" y1="458.7" x2="654.4" y2="458.7" stroke="#8a8a8a" stroke-width="0.55" stroke-dasharray="0.7 1.7"/>
<line x1="544.3" y1="429.2" x2="646.5" y2="488.2" stroke="#8a8a8a" stroke-width="0.55" stroke-dasharray="0.7 1.7"/>
<line x1="565.9" y1="407.6" x2="624.9" y2="509.8" stroke="#8a8a8a" stroke-width="0.55" stroke-dasharray="0.7 1.7"/>
<line x1="595.4" y1="399.7" x2="595.4" y2="517.7" stroke="#8a8a8a" stroke-width="0.55" stroke-dasharray="0.7 1.7"/>
<line x1="624.9" y1="407.6" x2="565.9" y2="509.8" stroke="#8a8a8a" stroke-width="0.55" stroke-dasharray="0.7 1.7"/>
<line x1="646.5" y1="429.2" x2="544.3" y2="488.2" stroke="#8a8a8a" stroke-width="0.55" stroke-dasharray="0.7 1.7"/>
<text transform="translate(629.4,402.4) scale(0.9,1)" text-anchor="middle" font-size="7.4" fill="#222">330</text>
<text transform="translate(654.3,427.3) scale(0.9,1)" text-anchor="middle" font-size="7.4" fill="#222">300</text>
<text transform="translate(663.4,461.3) scale(0.9,1)" text-anchor="middle" font-size="7.4" fill="#222">270</text>
<text transform="translate(654.3,495.3) scale(0.9,1)" text-anchor="middle" font-size="7.4" fill="#222">240</text>
<text transform="translate(629.4,520.2) scale(0.9,1)" text-anchor="middle" font-size="7.4" fill="#222">210</text>
<text transform="translate(561.4,520.2) scale(0.9,1)" text-anchor="middle" font-size="7.4" fill="#222">150</text>
<text transform="translate(536.5,495.3) scale(0.9,1)" text-anchor="middle" font-size="7.4" fill="#222">120</text>
<text transform="translate(536.5,427.3) scale(0.9,1)" text-anchor="middle" font-size="7.4" fill="#222">60</text>
<text transform="translate(561.4,402.4) scale(0.9,1)" text-anchor="middle" font-size="7.4" fill="#222">30</text>
<line x1="595.4" y1="458.7" x2="524.9" y2="458.7" stroke="#cc1426" stroke-width="2.4"/>
<text transform="translate(527.2,461.3) scale(0.9,1)" text-anchor="middle" font-size="7.4" font-weight="bold" fill="#7a0a14">90</text>
<line x1="595.4" y1="458.7" x2="595.4" y2="390.7" stroke="#1c1cb4" stroke-width="2.1"/>
<text transform="translate(595.4,393.4) scale(0.9,1)" text-anchor="middle" font-size="7.4" font-weight="bold" fill="#14148c">0</text>
<text transform="translate(601.7,456.8) scale(0.9,1)" text-anchor="middle" font-size="6.3" fill="#111">35</text>
<text transform="translate(616.5,463.2) scale(0.9,1)" text-anchor="middle" font-size="6.3" fill="#111">-24.5</text>
<text transform="translate(626.7,469.0) scale(0.9,1)" text-anchor="middle" font-size="6.3" fill="#111">-14</text>
<text transform="translate(641.9,475.3) scale(0.9,1)" text-anchor="middle" font-size="6.3" fill="#111">-3.5</text>
<text transform="translate(650.6,481.4) scale(0.9,1)" text-anchor="middle" font-size="6.3" fill="#111">7</text>
<path d="M596.0,427.0C598.0,427.6 600.0,428.5 602.0,428.6C604.0,428.7 605.8,428.0 608.0,427.6C610.2,427.2 612.7,426.1 615.0,426.0C617.3,425.9 619.7,426.2 622.0,427.0C624.3,427.8 627.0,429.3 629.0,431.0C631.0,432.7 632.7,434.8 634.0,437.0C635.3,439.2 636.3,441.5 637.0,444.0C637.7,446.5 638.1,449.3 638.0,452.0C637.9,454.7 637.4,457.5 636.6,460.0C635.8,462.5 634.3,464.8 633.0,467.0C631.7,469.2 630.5,471.2 629.0,473.0C627.5,474.8 625.8,476.5 624.0,478.0C622.2,479.5 619.7,480.7 618.0,482.0C616.3,483.3 615.7,485.2 614.0,486.0C612.3,486.8 610.0,487.2 608.0,487.0C606.0,486.8 603.7,486.0 602.0,485.0C600.3,484.0 598.9,482.3 598.0,481.0C597.1,479.7 597.1,477.4 596.6,477.4C596.1,477.4 595.8,479.6 595.0,481.0C594.2,482.4 593.3,484.7 592.0,486.0C590.7,487.3 589.0,488.2 587.0,488.6C585.0,489.0 582.3,489.2 580.0,488.6C577.7,488.0 575.3,486.6 573.0,485.0C570.7,483.4 568.2,481.3 566.0,479.0C563.8,476.7 561.8,473.8 560.0,471.0C558.2,468.2 556.6,465.0 555.4,462.0C554.2,459.0 553.3,456.0 552.6,453.0C551.9,450.0 551.3,446.8 551.4,444.0C551.5,441.2 552.1,438.5 553.0,436.0C553.9,433.5 555.2,431.0 557.0,429.0C558.8,427.0 561.3,425.2 564.0,424.0C566.7,422.8 570.0,422.2 573.0,422.0C576.0,421.8 579.2,422.5 582.0,423.0C584.8,423.5 587.7,424.3 590.0,425.0C592.3,425.7 594.0,426.4 596.0,427.0Z" fill="none" stroke="#0a0a0a" stroke-width="2.7" stroke-linejoin="round"/>
</g>
<rect x="0" y="596" width="750" height="1.6" fill="#e4e4e4"/>
<rect x="0" y="637" width="750" height="13" fill="#70716d"/>
<linearGradient id="lg" x1="0" y1="0" x2="1" y2="0"><stop offset="0" stop-color="#9a9a9a"/><stop offset="0.9" stop-color="#9c9c9c"/><stop offset="1" stop-color="#a9a9a9"/></linearGradient>
<polygon points="0,637 166,637 155,650 0,650" fill="url(#lg)"/>
</svg>
<div class="cap" id="c1" style="left:253.4px;top:24.1px;">850 and 940 MHz Radiation pattern</div>
<div class="cap" id="c2" style="left:245.4px;top:544.6px;">1500 and 1600 MHz Radiation pattern</div>
<div class="ft" id="f1" style="left:1.6px;top:606.6px;">www.advantech.com</div>
<div class="ft" id="f2" style="left:687.4px;top:606.6px;">Page: 26</div>
</div></body></html>
